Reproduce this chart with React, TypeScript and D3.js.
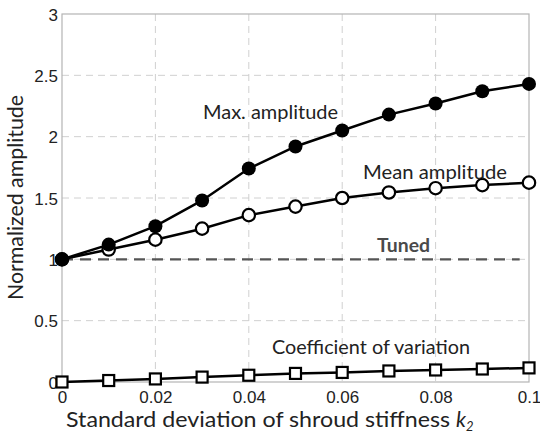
import React, { useRef, useEffect } from "react";
import * as d3 from "d3";

const xs = [0, 0.01, 0.02, 0.03, 0.04, 0.05, 0.06, 0.07, 0.08, 0.09, 0.1];
const maxAmp = [1, 1.12, 1.27, 1.48, 1.74, 1.92, 2.05, 2.18, 2.27, 2.37, 2.43];
const meanAmp = [1, 1.08, 1.16, 1.25, 1.36, 1.43, 1.5, 1.545, 1.58, 1.605, 1.625];
const covValues = [0, 0.012, 0.025, 0.04, 0.055, 0.07, 0.078, 0.09, 0.098, 0.106, 0.115];
const xTicks = [0, 0.02, 0.04, 0.06, 0.08, 0.1];
const yTicks = [0, 0.5, 1, 1.5, 2, 2.5, 3];
const tunedLevel = 1;

function App() {
    const svgRef = useRef<SVGSVGElement>(null);

    useEffect(() => {
        const svg = d3.select(svgRef.current);
        svg.selectAll("*").remove();
        const width = 540;
        const height = 435;
        const margin = { top: 14, right: 11, bottom: 53, left: 62 };
        const innerWidth = width - margin.left - margin.right;
        const innerHeight = height - margin.top - margin.bottom;
        const tickFont = "'Liberation Sans Narrow', 'Arial Narrow', Arial, sans-serif";
        const textFont = "Lato, 'Open Sans', sans-serif";

        const x = d3.scaleLinear().domain([0, 0.1]).range([0, innerWidth]);
        const y = d3.scaleLinear().domain([0, 3]).range([innerHeight, 0]);

        const g = svg.append("g").attr("transform", `translate(${margin.left},${margin.top})`);

        // grid
        g.selectAll(".vgrid")
            .data(xTicks.slice(1, -1))
            .enter()
            .append("line")
            .attr("x1", (d) => x(d))
            .attr("x2", (d) => x(d))
            .attr("y1", 0)
            .attr("y2", innerHeight)
            .attr("stroke", "#d0d0d0")
            .attr("stroke-width", 1)
            .attr("stroke-dasharray", "7,5");
        g.selectAll(".hgrid")
            .data(yTicks.slice(1, -1))
            .enter()
            .append("line")
            .attr("x1", 0)
            .attr("x2", innerWidth)
            .attr("y1", (d) => y(d))
            .attr("y2", (d) => y(d))
            .attr("stroke", "#d0d0d0")
            .attr("stroke-width", 1)
            .attr("stroke-dasharray", "7,5");

        // frame
        g.append("rect")
            .attr("x", 0)
            .attr("y", 0)
            .attr("width", innerWidth)
            .attr("height", innerHeight)
            .attr("fill", "none")
            .attr("stroke", "#b4b4b4")
            .attr("stroke-width", 1.2);

        // axes
        const xAxis = d3.axisBottom(x).tickValues(xTicks).tickSize(0).tickPadding(9)
            .tickFormat((d) => d3.format("")(+d));
        const yAxis = d3.axisLeft(y).tickValues(yTicks).tickSize(0).tickPadding(4)
            .tickFormat((d) => d3.format("")(+d));
        const xa = g.append("g").attr("transform", `translate(0,${innerHeight})`).call(xAxis);
        const ya = g.append("g").call(yAxis);
        [xa, ya].forEach((a) => {
            a.select(".domain").remove();
            a.selectAll("text")
                .attr("font-family", tickFont)
                .attr("font-size", 17)
                .attr("fill", "#222");
        });
        xa.selectAll("text").attr("dy", "0.72em");
        ya.selectAll("text").attr("dy", "0.36em");

        // tuned line
        g.append("line")
            .attr("x1", x(0))
            .attr("x2", x(0.098))
            .attr("y1", y(tunedLevel))
            .attr("y2", y(tunedLevel))
            .attr("stroke", "#555")
            .attr("stroke-width", 2.2)
            .attr("stroke-dasharray", "11,7");

        const line = d3.line<number>()
            .x((_, i) => x(xs[i]))
            .y((d) => y(d));

        const drawSeries = (vals: number[]) => {
            g.append("path")
                .datum(vals)
                .attr("d", line)
                .attr("fill", "none")
                .attr("stroke", "#000")
                .attr("stroke-width", 2.5);
        };
        drawSeries(covValues);
        drawSeries(meanAmp);
        drawSeries(maxAmp);

        g.selectAll(".sq")
            .data(covValues)
            .enter()
            .append("rect")
            .attr("x", (_, i) => x(xs[i]) - 5.5)
            .attr("y", (d) => y(d) - 5.5)
            .attr("width", 11)
            .attr("height", 11)
            .attr("fill", "#fff")
            .attr("stroke", "#000")
            .attr("stroke-width", 2.2);

        g.selectAll(".mean")
            .data(meanAmp)
            .enter()
            .append("circle")
            .attr("cx", (_, i) => x(xs[i]))
            .attr("cy", (d) => y(d))
            .attr("r", 6.2)
            .attr("fill", "#fff")
            .attr("stroke", "#000")
            .attr("stroke-width", 2.2);

        g.selectAll(".max")
            .data(maxAmp)
            .enter()
            .append("circle")
            .attr("cx", (_, i) => x(xs[i]))
            .attr("cy", (d) => y(d))
            .attr("r", 7)
            .attr("fill", "#000");

        // annotations
        const note = (tx: number, ty: number, len: number, s: string, color = "#222", weight = "normal") =>
            svg.append("text")
                .attr("x", tx)
                .attr("y", ty)
                .attr("font-family", textFont)
                .attr("font-size", 19)
                .attr("font-weight", weight)
                .attr("fill", color)
                .attr("textLength", len)
                .attr("lengthAdjust", "spacingAndGlyphs")
                .text(s);
        note(203, 119, 135, "Max. amplitude");
        note(363, 179, 144, "Mean amplitude");
        note(377, 252, 53, "Tuned", "#4a4a4a", "bold");
        note(272, 354, 198, "Coefficient of variation");

        // axis titles
        const xt = svg.append("text")
            .attr("x", 66)
            .attr("y", 427)
            .attr("font-family", textFont)
            .attr("font-size", 21)
            .attr("fill", "#222");
        xt.append("tspan").attr("textLength", 390).attr("lengthAdjust", "spacingAndGlyphs")
            .text("Standard deviation of shroud stiffness ");
        xt.append("tspan").attr("font-style", "italic").text("k");
        xt.append("tspan").attr("font-size", 13).attr("dy", 3.5).attr("font-style", "italic").text("2");

        svg.append("text")
            .attr("transform", `translate(23,${(95 + 300) / 2}) rotate(-90)`)
            .attr("text-anchor", "middle")
            .attr("font-family", textFont)
            .attr("font-size", 21)
            .attr("fill", "#222")
            .attr("textLength", 205)
            .attr("lengthAdjust", "spacingAndGlyphs")
            .text("Normalized amplitude");
    }, []);

    return (
        <svg
            ref={svgRef}
            width={540}
            height={435}
            style={{ position: "absolute", left: 0, top: 0, background: "#fff" }}
        ></svg>
    );
}

export default App;
